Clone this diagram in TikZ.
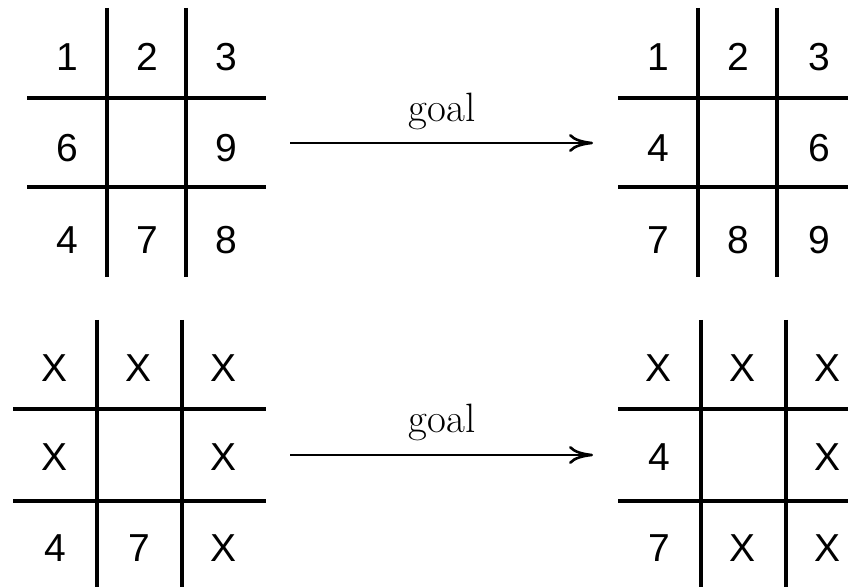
\documentclass[tikz,border=0pt]{standalone}
\usepackage{fontspec}
\newfontfamily\cellfont{Liberation Sans}
\usetikzlibrary{arrows.meta}
\tikzset{
  gridline/.style={line width=1.7pt},
  cell/.style={inner sep=0pt, font=\cellfont\fontsize{19.5}{23}\selectfont},
  goalarrow/.style={line width=1.4pt, -{To[length=12pt,width=9pt,line width=1.3pt]}},
  goallabel/.style={inner sep=0pt, anchor=base, font=\fontsize{20.5}{24}\selectfont}
}
\begin{document}
\begin{tikzpicture}[x=0.5pt,y=-0.5pt]
\useasboundingbox (0,0) rectangle (848,587);
% ---- top-left grid
\draw[gridline] (107,8) -- (107,277) (186,8) -- (186,277)
  (27,98) -- (266,98) (27,187) -- (266,187);
\node[cell] (a11) at (67,57) {1};
\node[cell] (a12) at (147,57) {2};
\node[cell] (a13) at (226,57) {3};
\node[cell] (a21) at (67,148) {6};
\node[cell] (a23) at (226,148) {9};
\node[cell] (a31) at (67,240) {4};
\node[cell] (a32) at (147,240) {7};
\node[cell] (a33) at (226,240) {8};
% ---- top-right grid
\draw[gridline] (698,8) -- (698,277) (777,8) -- (777,277)
  (618,98) -- (860,98) (618,187) -- (860,187);
\node[cell] (b11) at (658,57) {1};
\node[cell] (b12) at (738,57) {2};
\node[cell] (b13) at (819,57) {3};
\node[cell] (b21) at (658,148) {4};
\node[cell] (b23) at (819,148) {6};
\node[cell] (b31) at (658,240) {7};
\node[cell] (b32) at (738,240) {8};
\node[cell] (b33) at (819,240) {9};
% ---- top arrow
\coordinate (t1) at (290,143);
\coordinate (t2) at (593,143);
\draw[goalarrow] (t1) -- (t2);
\node[goallabel] (g1) at (442,122) {goal};
% ---- bottom-left grid
\draw[gridline] (97,320) -- (97,595) (182,320) -- (182,595)
  (13,409) -- (266,409) (13,501) -- (266,501);
\node[cell] (c11) at (55,368) {X};
\node[cell] (c12) at (139,368) {X};
\node[cell] (c13) at (224,368) {X};
\node[cell] (c21) at (55,457) {X};
\node[cell] (c23) at (224,457) {X};
\node[cell] (c31) at (55,548) {4};
\node[cell] (c32) at (139,548) {7};
\node[cell] (c33) at (224,548) {X};
% ---- bottom-right grid
\draw[gridline] (701,320) -- (701,595) (786,320) -- (786,595)
  (618,409) -- (860,409) (618,501) -- (860,501);
\node[cell] (d11) at (659,368) {X};
\node[cell] (d12) at (743,368) {X};
\node[cell] (d13) at (828,368) {X};
\node[cell] (d21) at (659,457) {4};
\node[cell] (d23) at (828,457) {X};
\node[cell] (d31) at (659,548) {7};
\node[cell] (d32) at (743,548) {X};
\node[cell] (d33) at (828,548) {X};
% ---- bottom arrow
\coordinate (u1) at (290,455);
\coordinate (u2) at (593,455);
\draw[goalarrow] (u1) -- (u2);
\node[goallabel] (g2) at (442,433) {goal};
\end{tikzpicture}
\end{document}
